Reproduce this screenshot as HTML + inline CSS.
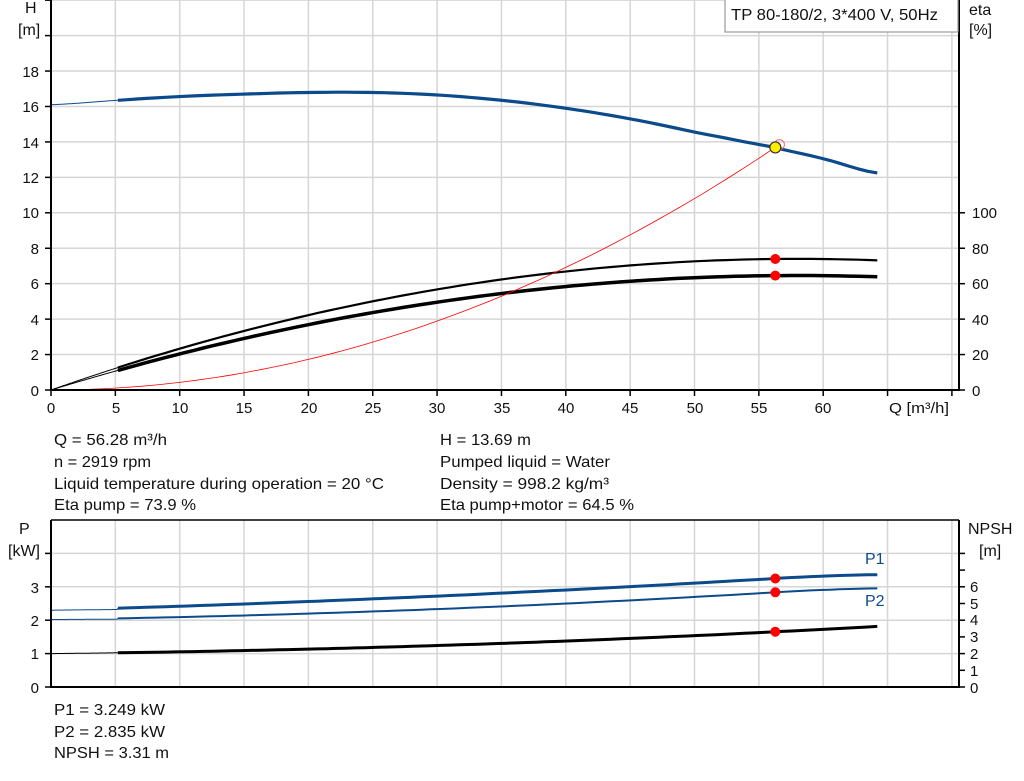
<!DOCTYPE html>
<html><head><meta charset="utf-8"><style>
html,body{margin:0;padding:0;background:#fff;}
svg{display:block;font-family:"Liberation Sans",Arial,sans-serif;}
text{font-size:15px;fill:#111;}
.t{font-size:16px;}
</style></head><body>
<svg id="s" width="1024" height="781" viewBox="0 0 1024 781" xmlns="http://www.w3.org/2000/svg">
<g id="grid" stroke="#d6d6d6" stroke-width="1.5"></g>
<g id="curves" fill="none"></g>
<line x1="51" y1="0" x2="51" y2="391" stroke="#000" stroke-width="2"/>
<line x1="959" y1="0" x2="959" y2="391" stroke="#000" stroke-width="2"/>
<line x1="50" y1="390" x2="960" y2="390" stroke="#000" stroke-width="2"/>
<line x1="51" y1="520" x2="959" y2="520" stroke="#000" stroke-width="1.5"/>
<line x1="51" y1="520" x2="51" y2="688" stroke="#000" stroke-width="2"/>
<line x1="959" y1="520" x2="959" y2="688" stroke="#000" stroke-width="2"/>
<line x1="50" y1="687" x2="960" y2="687" stroke="#000" stroke-width="2"/>
<g id="ticks" stroke="#000" stroke-width="1.5"></g>
<rect x="725" y="-2" width="233" height="34" fill="#fff" stroke="#999" stroke-width="1.2"/>
<text class="t" x="731" y="20" textLength="207" lengthAdjust="spacingAndGlyphs">TP 80-180/2, 3*400 V, 50Hz</text>
<text class="t" x="25" y="13">H</text><text class="t" x="18" y="35">[m]</text>
<text class="t" x="969" y="15">eta</text><text class="t" x="969" y="35">[%]</text>
<g text-anchor="end">
<text x="39" y="77">18</text><text x="39" y="112">16</text><text x="39" y="148">14</text>
<text x="39" y="183">12</text><text x="39" y="218">10</text><text x="39" y="254">8</text>
<text x="39" y="289">6</text><text x="39" y="325">4</text><text x="39" y="360">2</text><text x="39" y="396">0</text>
</g>
<g>
<text x="972" y="218">100</text><text x="972" y="254">80</text><text x="972" y="289">60</text>
<text x="972" y="325">40</text><text x="972" y="360">20</text><text x="972" y="396">0</text>
</g>
<g text-anchor="middle">
<text x="51" y="413">0</text><text x="116" y="413">5</text><text x="180" y="413">10</text>
<text x="244" y="413">15</text><text x="309" y="413">20</text><text x="373" y="413">25</text>
<text x="437" y="413">30</text><text x="502" y="413">35</text><text x="566" y="413">40</text>
<text x="630" y="413">45</text><text x="695" y="413">50</text><text x="759" y="413">55</text>
<text x="823" y="413">60</text>
</g>
<text x="889" y="413" textLength="60" lengthAdjust="spacingAndGlyphs">Q [m³/h]</text>
<text class="t" x="54" y="445" textLength="113" lengthAdjust="spacingAndGlyphs">Q = 56.28 m³/h</text>
<text class="t" x="54" y="467" textLength="97" lengthAdjust="spacingAndGlyphs">n = 2919 rpm</text>
<text class="t" x="54" y="489" textLength="330" lengthAdjust="spacingAndGlyphs">Liquid temperature during operation = 20 °C</text>
<text class="t" x="54" y="510" textLength="142" lengthAdjust="spacingAndGlyphs">Eta pump = 73.9 %</text>
<text class="t" x="440" y="445" textLength="91" lengthAdjust="spacingAndGlyphs">H = 13.69 m</text>
<text class="t" x="440" y="467" textLength="170" lengthAdjust="spacingAndGlyphs">Pumped liquid = Water</text>
<text class="t" x="440" y="489" textLength="169" lengthAdjust="spacingAndGlyphs">Density = 998.2 kg/m³</text>
<text class="t" x="440" y="510" textLength="194" lengthAdjust="spacingAndGlyphs">Eta pump+motor = 64.5 %</text>
<text class="t" x="19" y="534">P</text><text class="t" x="8" y="556">[kW]</text>
<text class="t" x="968" y="534">NPSH</text><text class="t" x="979" y="556">[m]</text>
<g text-anchor="end">
<text x="39" y="593">3</text><text x="39" y="626">2</text><text x="39" y="659">1</text><text x="39" y="693">0</text>
</g>
<g>
<text x="970" y="592">6</text><text x="970" y="609">5</text><text x="970" y="625">4</text>
<text x="970" y="642">3</text><text x="970" y="659">2</text><text x="970" y="676">1</text><text x="970" y="693">0</text>
</g>
<text class="t" x="865" y="564" style="fill:#0b4a8b">P1</text>
<text class="t" x="865" y="606" style="fill:#0b4a8b">P2</text>
<text class="t" x="54" y="715" textLength="111" lengthAdjust="spacingAndGlyphs">P1 = 3.249 kW</text>
<text class="t" x="54" y="737" textLength="111" lengthAdjust="spacingAndGlyphs">P2 = 2.835 kW</text>
<text class="t" x="54" y="758" textLength="115" lengthAdjust="spacingAndGlyphs">NPSH = 3.31 m</text>
</svg>
<script>
var NS="http://www.w3.org/2000/svg";
function el(p,t,a){var e=document.createElementNS(NS,t);for(var k in a)e.setAttribute(k,a[k]);document.getElementById(p).appendChild(e);return e;}
function X(q){return 51+q*12.87;}
function YT(h){return 390-h*17.72;}
function YB(p){return 687-p*33.4;}
function YN(n){return 687-n*16.7;}
for(var q=5;q<=70;q+=5)el("grid","line",{x1:X(q),y1:0,x2:X(q),y2:390}),el("grid","line",{x1:X(q),y1:520,x2:X(q),y2:687});
for(var h=2;h<=22;h+=2)el("grid","line",{x1:51,y1:YT(h),x2:959,y2:YT(h)});
for(var p=1;p<=4;p++)el("grid","line",{x1:51,y1:YB(p),x2:959,y2:YB(p)});
for(var h=0;h<=22;h+=2)el("ticks","line",{x1:45,y1:YT(h),x2:51,y2:YT(h)});
for(var h=0;h<=10;h+=2)el("ticks","line",{x1:959,y1:YT(h),x2:965,y2:YT(h)});
for(var q=0;q<=70;q+=5)el("ticks","line",{x1:X(q),y1:390,x2:X(q),y2:396});
for(var p=0;p<=4;p++)el("ticks","line",{x1:45,y1:YB(p),x2:51,y2:YB(p)});
for(var n=0;n<=8;n++)el("ticks","line",{x1:959,y1:YN(n),x2:965,y2:YN(n)});
function path(f,yf,a,b,st){var d="";for(var i=0;i<=80;i++){var q=a+(b-a)*i/80;d+=(i?"L":"M")+X(q).toFixed(1)+","+yf(f(q)).toFixed(1);}
 var o={d:d,"stroke-linejoin":"round"};for(var k in st)o[k]=st[k];return el("curves","path",o);}
var HQ=[0,5.2,10,15,20,25,30,35,40,45,50,56.28,60,64.2],HV=[16.1,16.35,16.56,16.7,16.79,16.79,16.65,16.35,15.9,15.3,14.55,13.69,13.05,12.25];
function H(q){var n=HQ.length;for(var i=0;i<n-1;i++)if(q<=HQ[i+1]||i==n-2){var t=(q-HQ[i])/(HQ[i+1]-HQ[i]);
 var p0=HV[Math.max(i-1,0)],p1=HV[i],p2=HV[i+1],p3=HV[Math.min(i+2,n-1)];
 return 0.5*((2*p1)+(-p0+p2)*t+(2*p0-5*p1+4*p2-p3)*t*t+(-p0+3*p1-3*p2+p3)*t*t*t);}}
var B="#0b4a8b";
path(H,YT,0,5.2,{stroke:B,"stroke-width":1});
path(H,YT,5.2,64.2,{stroke:B,"stroke-width":3.2});
function E1(q){return 0.0022*(116*q-q*q);}
function E2(q){return 0.873*E1(q);}
path(E1,YT,0,5.2,{stroke:"#000","stroke-width":1});
path(E2,YT,0,5.2,{stroke:"#000","stroke-width":1});
path(E1,YT,5.2,64.2,{stroke:"#000","stroke-width":2.2});
path(E2,YT,5.2,64.2,{stroke:"#000","stroke-width":3.5});
function S(q){return 0.004322*q*q;}
path(S,YT,0,56.6,{stroke:"#f00","stroke-width":0.8});
el("curves","circle",{cx:X(56.6),cy:YT(S(56.6)),r:5,stroke:"#f66","stroke-width":1,fill:"none"});
el("curves","circle",{cx:X(56.28),cy:YT(13.69),r:5.5,fill:"#ffee00",stroke:"#333","stroke-width":1.2});
el("curves","circle",{cx:X(56.28),cy:YT(E1(56.28)),r:5,fill:"#f00"});
el("curves","circle",{cx:X(56.28),cy:YT(E2(56.28)),r:5,fill:"#f00"});
function P1(q){return q<5.2?2.3+0.004*q:2.3+0.0108*q+0.000108*q*q-(q>56.28?0.0012*(q-56.28)*(q-56.28):0);}
function P2(q){return q<5.2?2.02+0.002*q:2.02+0.00576*q+0.000155*q*q-(q>56.28?0.0012*(q-56.28)*(q-56.28):0);}
function N(q){return 2.0+0.008*q+0.00027*q*q;}
path(P1,YB,0,5.2,{stroke:B,"stroke-width":1});
path(P1,YB,5.2,64.2,{stroke:B,"stroke-width":3});
path(P2,YB,0,5.2,{stroke:B,"stroke-width":1});
path(P2,YB,5.2,64.2,{stroke:B,"stroke-width":2});
path(N,YN,0,5.2,{stroke:"#000","stroke-width":1});
path(N,YN,5.2,64.2,{stroke:"#000","stroke-width":3});
el("curves","circle",{cx:X(56.28),cy:YB(3.249),r:5,fill:"#f00"});
el("curves","circle",{cx:X(56.28),cy:YB(2.835),r:5,fill:"#f00"});
el("curves","circle",{cx:X(56.28),cy:YN(3.31),r:5,fill:"#f00"});
</script>
</body></html>
